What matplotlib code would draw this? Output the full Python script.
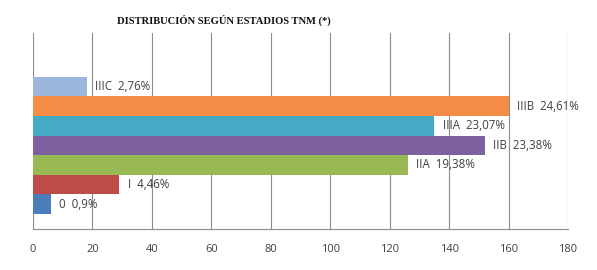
import matplotlib
matplotlib.use("Agg")
import matplotlib.pyplot as plt

stages = ["0", "I", "IIA", "IIB", "IIIA", "IIIB", "IIIC"]
counts = [6, 29, 126, 152, 135, 160, 18]
percents = ["0,9%", "4,46%", "19,38%", "23,38%", "23,07%", "24,61%", "2,76%"]
colors = ["#4A7EBB", "#BE4B48", "#98B954", "#7D60A0", "#46AAC5", "#F38D45", "#9BB5DC"]
xticks = [0, 20, 40, 60, 80, 100, 120, 140, 160, 180]

fig = plt.figure(figsize=(5.97, 2.70), dpi=100)
ax = fig.add_axes([33/597, 1 - 229/270, (568-33)/597, (229-33)/270])

ypos = list(range(len(stages)))
ax.barh(ypos, counts, height=1.0, color=colors, zorder=3)

for y, c, s, p in zip(ypos, counts, stages, percents):
    ax.annotate(f"{s}  {p}", xy=(c, y), xytext=(6, 0), textcoords="offset points",
                va="center", ha="left", fontsize=8.3, color="#404040",
                family="Open Sans", zorder=4)

ax.set_xlim(0, 180)
ax.set_ylim(-1.27, 8.74)
ax.set_xticks(xticks)
ax.set_xticklabels([str(t) for t in xticks], fontsize=8, color="#404040", family="Open Sans")
ax.set_yticks([])
ax.tick_params(axis="x", length=0, pad=11)
ax.grid(axis="x", color="#8C8C8C", linewidth=0.8, zorder=0)
for side in ["top", "right", "left"]:
    ax.spines[side].set_visible(False)
ax.spines["bottom"].set_color("#8C8C8C")
ax.spines["bottom"].set_linewidth(0.8)

fig.text(117/597, 1 - 20/270, "DISTRIBUCIÓN SEGÚN ESTADIOS TNM (*)", ha="left", va="center",
         fontsize=7.6, fontweight="bold", family="Liberation Serif", color="#111111")

fig.savefig("out.png", dpi=100, facecolor="white")
